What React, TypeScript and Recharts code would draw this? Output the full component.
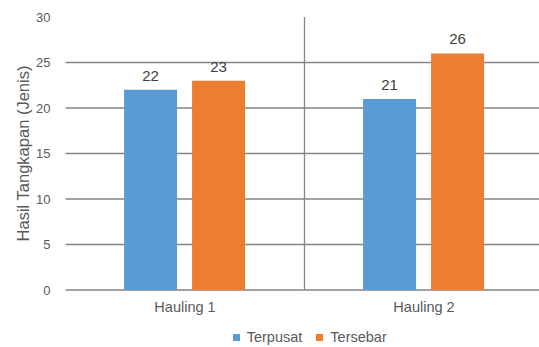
import { BarChart, Bar, XAxis, YAxis, CartesianGrid, Legend, LabelList } from 'recharts';

const categories = ['Hauling 1', 'Hauling 2'];
const terpusat = [22, 21];
const tersebar = [23, 26];
const yTicks = [0, 5, 10, 15, 20, 25, 30];
const gridValues = [0, 5, 10, 15, 20, 25];

const data = categories.map((name, i) => ({
  name,
  Terpusat: terpusat[i],
  Tersebar: tersebar[i],
}));

const FONT = '"Liberation Sans", Arial, sans-serif';

// rotated axis title, centred on the plot height
const YTitle = (props: any) => {
  const { viewBox } = props;
  const cx = viewBox.x + 23;
  const cy = viewBox.y + viewBox.height / 2;
  return (
    <text
      x={cx}
      y={cy}
      transform={`rotate(-90, ${cx}, ${cy})`}
      textAnchor="middle"
      dominantBaseline="central"
      fill="#595959"
      fontSize={16.5}
      fontFamily={FONT}
    >
      Hasil Tangkapan (Jenis)
    </text>
  );
};

const LegendBox = (props: any) => {
  const { payload = [] } = props;
  return (
    <div
      style={{
        display: 'flex',
        justifyContent: 'center',
        alignItems: 'center',
        height: 20,
        paddingLeft: 76,
        boxSizing: 'border-box',
        fontFamily: FONT,
        fontSize: 14.5,
        color: '#595959',
      }}
    >
      {payload.map((p: any, i: number) => (
        <span
          key={p.value}
          style={{ display: 'inline-flex', alignItems: 'center', marginLeft: i ? 14 : 0 }}
        >
          <span style={{ width: 7, height: 7, background: p.color, marginRight: 7 }} />
          {p.value}
        </span>
      ))}
    </div>
  );
};

export default function App() {
  return (
    <div
      style={{
        position: 'absolute',
        top: 0,
        left: 0,
        width: 539,
        height: 347,
        overflow: 'hidden',
        background: '#fff',
      }}
    >
      <BarChart
        width={545}
        height={347}
        data={data}
        margin={{ top: 17, right: 1.5, left: 0, bottom: 0 }}
        barCategoryGap="24.5%"
        barGap={15}
        style={{ fontFamily: FONT }}
      >
        <CartesianGrid
          stroke="#858585"
          strokeWidth={1.3}
          horizontalValues={gridValues}
          verticalCoordinatesGenerator={({ offset }: any) => [offset.left + offset.width / 2]}
        />
        <XAxis
          dataKey="name"
          height={37}
          axisLine={false}
          tickLine={false}
          tickSize={0}
          tickMargin={12}
          tick={{ fill: '#595959', fontSize: 14.5 }}
        />
        <YAxis
          width={65.5}
          domain={[0, 30]}
          ticks={yTicks}
          interval={0}
          axisLine={false}
          tickLine={false}
          tickSize={0}
          tickMargin={15}
          tick={{ fill: '#595959', fontSize: 13 }}
          label={{ content: <YTitle /> }}
        />
        <Legend verticalAlign="bottom" content={<LegendBox />} />
        <Bar dataKey="Terpusat" fill="#5b9bd5" isAnimationActive={false}>
          <LabelList dataKey="Terpusat" position="top" offset={9} fill="#404040" fontSize={15} />
        </Bar>
        <Bar dataKey="Tersebar" fill="#ed7d31" isAnimationActive={false}>
          <LabelList dataKey="Tersebar" position="top" offset={9} fill="#404040" fontSize={15} />
        </Bar>
      </BarChart>
    </div>
  );
}
